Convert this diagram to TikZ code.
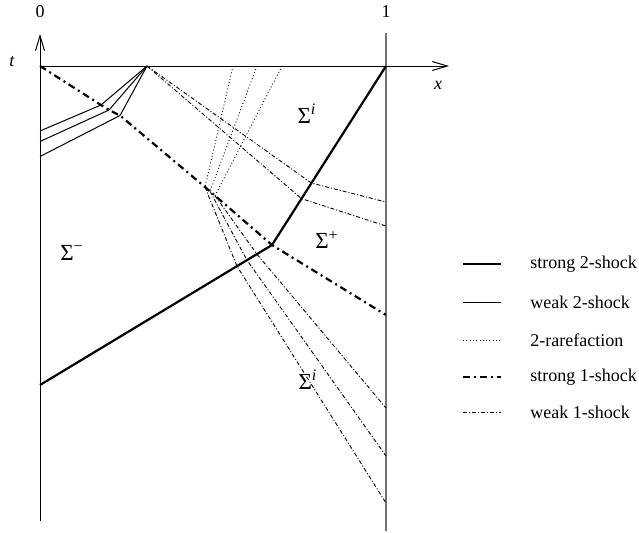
\documentclass[tikz,border=0pt]{standalone}
\usepackage{fontspec}
\setmainfont{Liberation Serif}
\usetikzlibrary{arrows.meta,calc}
\newcommand{\sig}[1]{{\fontsize{11.5}{13}\selectfont Σ\textsuperscript{#1}}}
\begin{document}
\begin{tikzpicture}[x=0.5pt,y=-0.5pt,font=\fontsize{9}{11}\selectfont,
    axis/.style={line width=0.5pt,-{Straight Barb[length=7.5pt,width=4.5pt]}},
    strongtwo/.style={line width=1.1pt,line join=round},
    weaktwo/.style={line width=0.5pt},
    rarefaction/.style={line width=0.45pt,dash pattern=on 0.45pt off 1.2pt},
    strongone/.style={line width=1.1pt,dash pattern=on 3.5pt off 2pt on 1pt off 2pt},
    weakone/.style={line width=0.45pt,dash pattern=on 2pt off 1pt on 0.5pt off 1pt},
    lab/.style={anchor=west,inner sep=0pt}]
            \useasboundingbox (0,0) rectangle (639,532);

            \coordinate (o) at (40,66);
            \coordinate (tt) at (40,34);
            \coordinate (tb) at (40,521);
            \coordinate (xe) at (449,66);
            \coordinate (one) at (386,66);
            \coordinate (rt) at (386,33);
            \coordinate (rbot) at (386,531);

            \draw[axis] (tb) -- (tt);
            \draw[axis] (o) -- (xe);
            \draw[black!55,line width=0.6pt] (rt) -- (rbot);

            \node (zero) at (40,12) {0};
            \node (unit) at (386,12) {1};
            \node (tlab) at (12,62) {\itshape t};
            \node (xlab) at (438,85) {\itshape x};

            \coordinate (s2a) at (40,385);
            \coordinate (s2k) at (272,245);
            \coordinate (w) at (147,66);
            \coordinate (k1) at (101,105);
            \coordinate (k2) at (109,110);
            \coordinate (k3) at (120,115.5);
            \coordinate (l1) at (40,131);
            \coordinate (l2) at (40,141.5);
            \coordinate (l3) at (40,156.5);
            \coordinate (q1) at (205,187);
            \coordinate (q2) at (210,191.3);
            \coordinate (q3) at (215,195.7);
            \coordinate (e) at (386,315);
            \coordinate (f1) at (233,66);
            \coordinate (f2) at (257,66);
            \coordinate (f3) at (282,66);
            \coordinate (c1) at ($(s2k)!0.346!(one)$);
            \coordinate (c2) at ($(s2k)!0.259!(one)$);
            \coordinate (g1) at (386,202);
            \coordinate (g2) at (386,226);
            \coordinate (d1) at ($(s2a)!0.849!(s2k)$);
            \coordinate (d2) at ($(s2a)!0.892!(s2k)$);
            \coordinate (d3) at ($(s2a)!0.935!(s2k)$);
            \coordinate (h1) at (386,503);
            \coordinate (h2) at (386,456);
            \coordinate (h3) at (386,408);

            \draw[strongtwo] (s2a) -- (s2k) -- (one);
            \draw[weaktwo] (l1) -- (k1) -- (w);
            \draw[weaktwo] (l2) -- (k2) -- (w);
            \draw[weaktwo] (l3) -- (k3) -- (w);
            \draw[strongone] (o) -- (k1) -- (k2) -- (k3) -- (q1) -- (s2k) -- (e);
            \draw[rarefaction] (f1) -- (q1);
            \draw[rarefaction] (f2) -- (q2);
            \draw[rarefaction] (f3) -- (q3);
            \draw[weakone] (w) -- (c1) -- (g1);
            \draw[weakone] (w) -- (c2) -- (g2);
            \draw[weakone] (q1) -- (d1) -- (h1);
            \draw[weakone] (q2) -- (d2) -- (h2);
            \draw[weakone] (q3) -- (d3) -- (h3);

            \node (sigi) at (307,114) {\sig{\itshape i}};
            \node (sigm) at (72,253) {\sig{−}};
            \node (sigp) at (327,240) {\sig{+}};
            \node (sigl) at (308,380) {\sig{\itshape i}};

            \coordinate (a1) at (463,264);
            \coordinate (b1) at (501,264);
            \coordinate (a2) at (463,302);
            \coordinate (b2) at (501,302);
            \coordinate (a3) at (463,340);
            \coordinate (b3) at (501,340);
            \coordinate (a4) at (463,377);
            \coordinate (b4) at (501,377);
            \coordinate (a5) at (463,412);
            \coordinate (b5) at (501,412);

            \draw[strongtwo] (a1) -- (b1);
            \draw[weaktwo] (a2) -- (b2);
            \draw[rarefaction] (a3) -- (b3);
            \draw[strongone] (a4) -- (b4);
            \draw[weakone] (a5) -- (b5);

            \node[lab] (n1) at (530,264) {strong 2-shock};
            \node[lab] (n2) at (530,302) {weak 2-shock};
            \node[lab] (n3) at (530,340) {2-rarefaction};
            \node[lab] (n4) at (530,377) {strong 1-shock};
            \node[lab] (n5) at (530,412) {weak 1-shock};
        \end{tikzpicture}
\end{document}
